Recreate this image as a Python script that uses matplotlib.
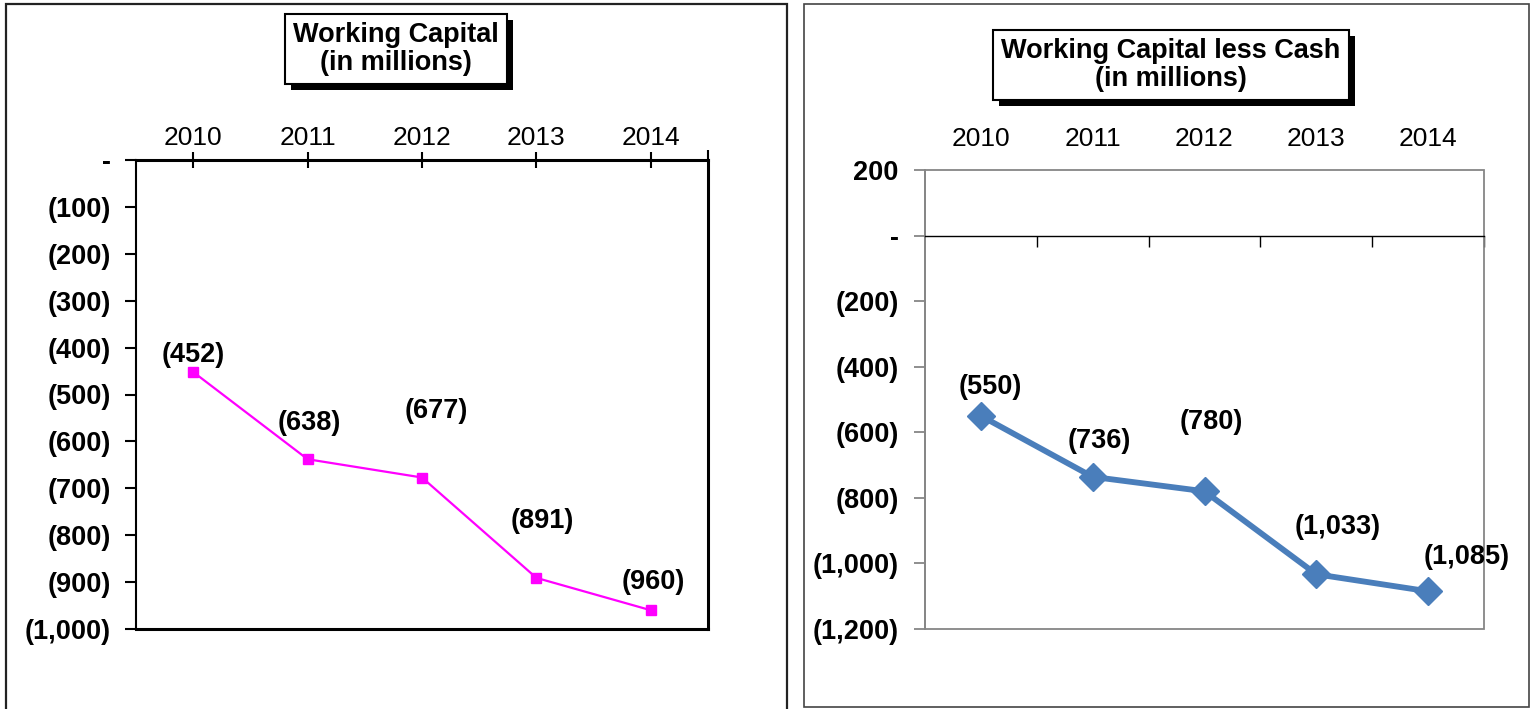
import numpy as np
import matplotlib
matplotlib.use("Agg")
import matplotlib.pyplot as plt
from matplotlib.patches import Rectangle
from matplotlib.ticker import FuncFormatter, FixedLocator
import matplotlib.patheffects as pe

plt.rcParams['font.family'] = ['Liberation Sans', 'DejaVu Sans']

years = ["2010", "2011", "2012", "2013", "2014"]
working_capital = [-452, -638, -677, -891, -960]
wc_less_cash = [-550, -736, -780, -1033, -1085]

# label offsets in pixels (dx, dy) from each point
wc_offsets = [(0, 17), (2, 36), (14, 67), (6, 57), (3, 28)]
wcc_offsets = [(9, 29), (7, 36), (7, 69), (21, 47), (39, 34)]


def acct(v, pos=None):
    if v == 0:
        return "-"
    if v < 0:
        return "({:,.0f})".format(-v)
    return "{:,.0f}".format(v)


def title_box(fig, x, y, text):
    box = dict(boxstyle="square,pad=0.3", fc="white", ec="black", lw=1.5)
    t = fig.text(x, y, text, ha="center", va="center", fontsize=19.5,
                 fontweight="bold", color="black", bbox=box, linespacing=1.12)
    t.get_bbox_patch().set_path_effects(
        [pe.SimplePatchShadow(offset=(4.3, -4.3), shadow_rgbFace="black", alpha=1),
         pe.Normal()])


fig = plt.figure(figsize=(15.31, 7.09), dpi=100)
W, H = 1531, 709

# panel borders
fig.patches.append(Rectangle((6 / W, -0.02), 781 / W, 1.02 - 4 / H,
                             transform=fig.transFigure, fill=False,
                             ec="#222222", lw=1.6))
fig.patches.append(Rectangle((804 / W, 1 - 707 / H), 725 / W, 703 / H,
                             transform=fig.transFigure, fill=False,
                             ec="#444444", lw=1.2))

x = np.arange(len(years))

# ---------------- left chart ----------------
ax1 = fig.add_axes([136 / W, 1 - 629 / H, 572 / W, 469 / H])
ax1.plot(x, working_capital, color="#FF00FF", lw=1.6, marker="s",
         markersize=7, zorder=3)
ax1.set_xlim(-0.5, 4.5)
ax1.set_ylim(-1000, 0)
ax1.set_yticks(np.arange(-1000, 1, 100))
ax1.yaxis.set_major_formatter(FuncFormatter(acct))
ax1.set_xticks(x)
ax1.set_xticklabels(years)
ax1.xaxis.tick_top()
ax1.xaxis.set_minor_locator(FixedLocator([4.5]))
ax1.tick_params(axis="x", which="major", direction="inout", length=12,
                width=1.5, labelsize=19, pad=1, colors="black")
ax1.tick_params(axis="x", which="minor", top=True, bottom=False,
                direction="out", length=7, width=1.5)
ax1.tick_params(axis="y", direction="out", length=8, width=1.5, pad=10,
                labelsize=19.5)
for lab in ax1.get_yticklabels():
    lab.set_fontweight("bold")
ax1.spines["top"].set_linewidth(2.2)
ax1.spines["left"].set_linewidth(1.5)
ax1.spines["right"].set_linewidth(2.2)
ax1.spines["bottom"].set_linewidth(2.2)
for xi, v, (dx, dy) in zip(x, working_capital, wc_offsets):
    ax1.annotate(acct(v), (xi, v), xytext=(dx, dy), textcoords="offset pixels",
                 ha="center", va="center", fontsize=19.5, fontweight="bold")

# ---------------- right chart ----------------
ax2 = fig.add_axes([925 / W, 1 - 629 / H, 559 / W, 459 / H])
ax2.plot(x, wc_less_cash, color="#4A7EBB", lw=4.2, marker="D",
         markersize=14, zorder=3)
ax2.set_xlim(-0.5, 4.5)
ax2.set_ylim(-1200, 200)
ax2.set_yticks(np.arange(-1200, 201, 200))
ax2.yaxis.set_major_formatter(FuncFormatter(acct))
ax2.set_xticks(x)
ax2.set_xticklabels(years)
ax2.xaxis.set_minor_locator(FixedLocator(x + 0.5))
ax2.spines["bottom"].set_position(("data", 0))
ax2.spines["bottom"].set_color("black")
ax2.spines["bottom"].set_linewidth(1.0)
ax2.spines["top"].set_visible(False)
ax2.spines["right"].set_visible(False)
ax2.spines["left"].set_color("#868686")
ax2.spines["left"].set_linewidth(1.3)
ax2.add_patch(Rectangle((0, 0), 1, 1, transform=ax2.transAxes, fill=False,
                        ec="#868686", lw=1.3, clip_on=False, zorder=2))
ax2.tick_params(axis="x", which="major", length=0, labeltop=True,
                labelbottom=False, labelsize=19, pad=14)
ax2.tick_params(axis="x", which="minor", bottom=True, top=False,
                direction="out", length=8, width=1.0, color="black")
ax2.tick_params(axis="y", direction="out", length=8, width=1.3,
                color="#868686", pad=11, labelsize=19.5)
for lab in ax2.get_yticklabels():
    lab.set_fontweight("bold")
for xi, v, (dx, dy) in zip(x, wc_less_cash, wcc_offsets):
    ax2.annotate(acct(v), (xi, v), xytext=(dx, dy), textcoords="offset pixels",
                 ha="center", va="center", fontsize=19.5, fontweight="bold",
                 zorder=4)

# titles
title_box(fig, 396 / W, 1 - 49 / H, "Working Capital\n(in millions)")
title_box(fig, 1171 / W, 1 - 65 / H, "Working Capital less Cash\n(in millions)")

fig.savefig("out.png", dpi=100)
